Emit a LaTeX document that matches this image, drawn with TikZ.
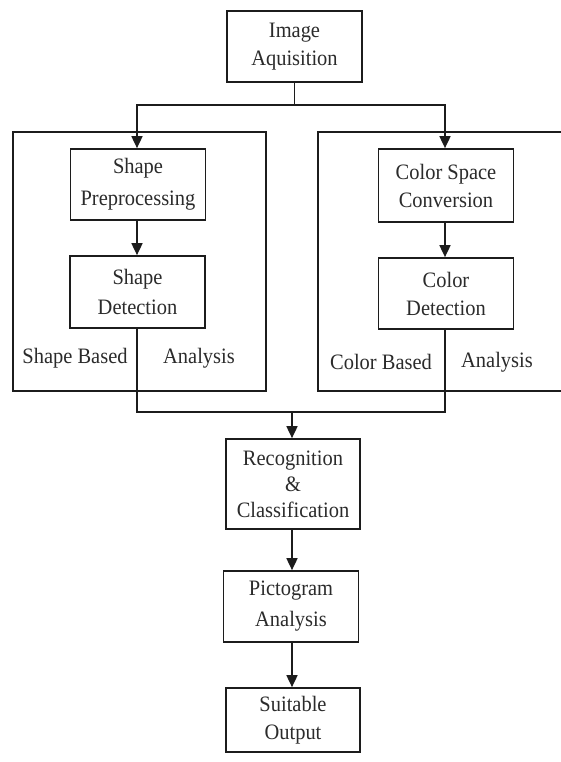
\documentclass[tikz,border=0pt]{standalone}
\usepackage{fontspec}
\setmainfont{Liberation Serif}[FakeStretch=0.93]
\usetikzlibrary{arrows.meta}
\definecolor{ink}{HTML}{1C1C1C}
\definecolor{txt}{HTML}{2B2B2B}
\newcommand{\boxfont}[1]{\fontsize{22}{#1}\selectfont}
\begin{document}
\begin{tikzpicture}[x=1pt,y=-1pt,
  every node/.style={text=txt,font=\boxfont{28}},
  stepbox/.style={draw=ink,line width=1.7pt,minimum width=135pt,minimum height=71pt,
    inner sep=0pt,align=center},
  wire/.style={draw=ink,line width=1.7pt},
  flow/.style={wire,-{Triangle[length=12pt,width=11pt]}},
  grouplbl/.style={inner sep=0pt}]
\useasboundingbox[fill=white] (0,0) rectangle (561,762);

% group frames
\draw[wire] (13,132) rectangle (266,391);
\draw[wire] (561,132) -- (318,132) -- (318,391) -- (561,391);

% process boxes
\node[stepbox] (img) at (294.5,46.5) {Image\\Aquisition};
\node[stepbox,font=\boxfont{32}] (sp) at (138,184.5) {Shape\\Preprocessing};
\node[stepbox,minimum height=72pt,font=\boxfont{30}] (sd) at (137.5,292) {Shape\\Detection};
\node[stepbox,minimum height=73pt] (cs) at (446,185.5) {Color Space\\Conversion};
\node[stepbox] (cd) at (446,293.5) {Color\\Detection};
\node[stepbox,minimum width=134pt,minimum height=90pt,font=\boxfont{26}] (rec) at (293,484) {Recognition\\\&\\Classification};
\node[stepbox,font=\boxfont{31}] (pic) at (291,606.5) {Pictogram\\Analysis};
\node[stepbox,minimum width=134pt,minimum height=64pt] (out) at (293,720) {Suitable\\Output};

% group captions
\node[grouplbl] (l1) at (75,358) {Shape Based};
\node[grouplbl] (l2) at (199,358) {Analysis};
\node[grouplbl] (l3) at (381,362) {Color Based};
\node[grouplbl] (l4) at (497,362) {Analysis};

% split after acquisition
\coordinate (split) at (294.5,105);
\draw[wire] (img.south) -- (split);
\draw[flow] (split) -| (sp.north -| 137,0);
\draw[flow] (split) -| (cs.north -| 445,0);
\draw[flow] (sp.south -| 137,0) -- (sd.north -| 137,0);
\draw[flow] (cs.south -| 445,0) -- (cd.north -| 445,0);

% merge towards recognition
\coordinate (merge) at (292,412);
\draw[wire] (sd.south -| 137,0) |- (merge);
\draw[wire] (cd.south -| 445,0) |- (merge);
\draw[flow] (merge) -- (rec.north -| 292,0);
\draw[flow] (rec.south -| 292,0) -- (pic.north -| 292,0);
\draw[flow] (pic.south -| 292,0) -- (out.north -| 292,0);
\end{tikzpicture}
\end{document}
